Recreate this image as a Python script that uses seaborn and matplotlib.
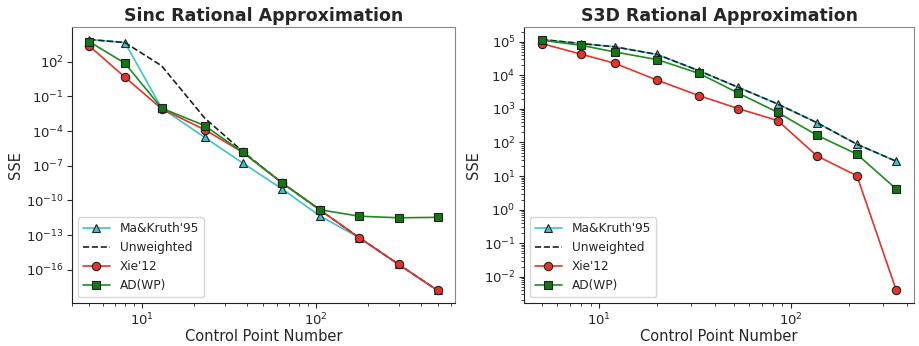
import numpy as np
import pandas as pd
import matplotlib.pyplot as plt
import seaborn as sns

# ==============================
# 1. Datos
# ==============================
sinc_n = [5, 8, 13, 23, 38, 64, 106, 178, 299, 500]
sinc_ma = [8.0e3, 4.4e3, 9.5e-3, 2.8e-5, 1.7e-7, 1.0e-9, 4.4e-12, 6.0e-14, 3.0e-16, 1.7e-18]
sinc_unw = [8.0e3, 4.4e3, 4.3e1, 1.3e-3, 1.7e-6, 3.3e-9, 1.45e-11, 6.0e-14, 3.0e-16, 1.7e-18]
sinc_xie = [2.2e3, 4.5e0, 8.3e-3, 1.3e-4, 1.45e-6, 3.3e-9, 1.45e-11, 6.0e-14, 3.0e-16, 1.7e-18]
sinc_ad = [5.2e3, 7.2e1, 9.5e-3, 2.9e-4, 1.45e-6, 3.3e-9, 1.55e-11, 4.4e-12, 3.2e-12, 3.5e-12]

s3d_n = [5, 8, 12, 20, 33, 53, 85, 136, 220, 353]
s3d_ma = [1.17e5, 8.9e4, 7.1e4, 4.2e4, 1.38e4, 4.4e3, 1.4e3, 3.9e2, 8.9e1, 2.75e1]
s3d_unw = [1.17e5, 8.9e4, 7.1e4, 4.2e4, 1.38e4, 4.4e3, 1.4e3, 3.9e2, 8.9e1, 2.75e1]
s3d_xie = [8.9e4, 4.3e4, 2.3e4, 7.2e3, 2.5e3, 1.02e3, 4.5e2, 4.0e1, 1.02e1, 3.9e-3]
s3d_ad = [1.12e5, 7.9e4, 5.0e4, 2.95e4, 1.15e4, 2.95e3, 7.9e2, 1.65e2, 4.5e1, 4.1e0]

labels = ["Ma&Kruth'95", "Unweighted", "Xie'12", "AD(WP)"]

# ==============================
# 2. Estilo
# ==============================
sns.set_style("ticks")
plt.rcParams["font.family"] = ["DejaVu Sans"]

c_cyan = "#3ec3c6"
c_red = "#e3332a"
c_green = "#1f8c1f"


def dibujar(ax, n, ma, unw, xie, ad, titulo):
    sns.lineplot(x=n, y=ma, ax=ax, color=c_cyan, marker="^", markersize=6,
                 markerfacecolor=c_cyan, markeredgecolor="#222222", markeredgewidth=0.8,
                 linewidth=1.2, label=labels[0])
    sns.lineplot(x=n, y=unw, ax=ax, color="#222222", linestyle="--",
                 linewidth=1.2, label=labels[1])
    sns.lineplot(x=n, y=xie, ax=ax, color=c_red, marker="o", markersize=6,
                 markerfacecolor=c_red, markeredgecolor="#222222", markeredgewidth=0.8,
                 linewidth=1.2, label=labels[2])
    sns.lineplot(x=n, y=ad, ax=ax, color=c_green, marker="s", markersize=6,
                 markerfacecolor="#137513", markeredgecolor="#222222", markeredgewidth=0.8,
                 linewidth=1.2, label=labels[3])
    ax.set(xscale="log", yscale="log")
    # márgenes de 5% en escala log, como el autoescalado de matplotlib
    lo = np.log10(min(min(ma), min(xie), min(ad)))
    hi = np.log10(max(max(ma), max(xie), max(ad)))
    m = 0.05 * (hi - lo)
    ax.set_ylim(10 ** (lo - m), 10 ** (hi + m))
    ax.set_title(titulo, fontsize=12.5, fontweight="bold", pad=4)
    ax.set_xlabel("Control Point Number", fontsize=10.5, labelpad=1)
    ax.set_ylabel("SSE", fontsize=10.5, labelpad=2)
    ax.tick_params(labelsize=9.5, which="major", length=3.5, pad=2.5)
    ax.tick_params(which="minor", length=2)
    for s in ["top", "right"]:
        ax.spines[s].set_visible(True)
        ax.spines[s].set_color("#888888")
    for s in ["left", "bottom"]:
        ax.spines[s].set_color("#222222")
    ax.legend(loc="lower left", fontsize=8.7, frameon=True, handlelength=2.25,
              handletextpad=0.8, borderaxespad=0.5)


fig = plt.figure(figsize=(9.19, 3.46), dpi=100)
ax1 = fig.add_axes([0.0783, 0.1243, 0.4168, 0.7977])
ax2 = fig.add_axes([0.5702, 0.1243, 0.4244, 0.7977])

dibujar(ax1, sinc_n, sinc_ma, sinc_unw, sinc_xie, sinc_ad, "Sinc Rational Approximation")
dibujar(ax2, s3d_n, s3d_ma, s3d_unw, s3d_xie, s3d_ad, "S3D Rational Approximation")

fig.savefig("out.png", dpi=100)
plt.close()
